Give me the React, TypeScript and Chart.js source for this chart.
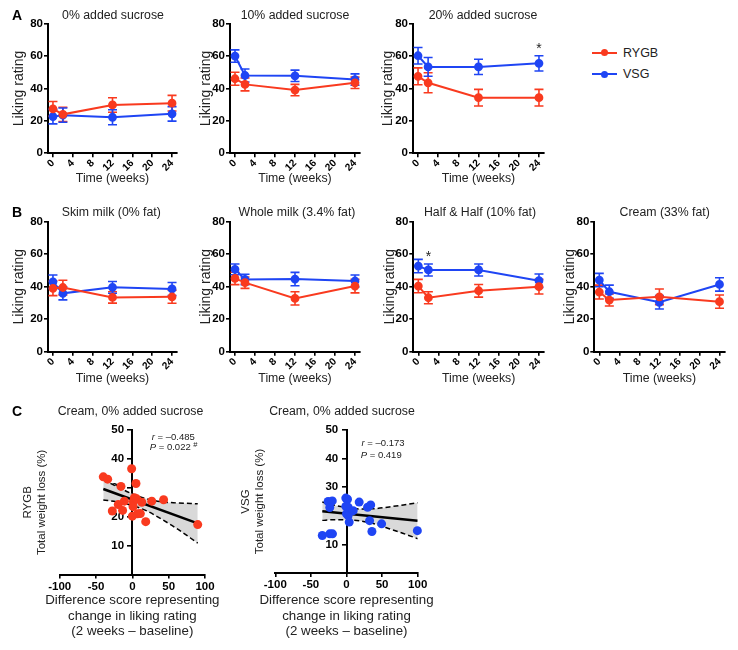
import React, { useEffect, useRef } from 'react';
import { Chart, registerables } from 'chart.js';

Chart.register(...registerables);

const FONT = "'Liberation Sans', Arial, Helvetica, sans-serif";
Chart.defaults.font.family = FONT;
Chart.defaults.color = '#000';

const RED = '#F93A1F';
const BLUE = '#1F45F4';
const BAND = '#D9D9D9';
const TEXT = '#222';

// ---------- Panels A & B: liking rating over time ----------
const weeks = [0, 2, 12, 24];
const weekTicks = [0, 4, 8, 12, 16, 20, 24];
const likingTicks = [0, 20, 40, 60, 80];

const suc0Rygb = [27.4, 24.0, 29.8, 30.9];
const suc0RygbSem = [4.5, 4.4, 4.5, 4.8];
const suc0Vsg = [22.6, 23.5, 22.2, 24.3];
const suc0VsgSem = [4.5, 4.4, 4.6, 4.5];

const suc10Rygb = [46.0, 42.5, 39.0, 43.5];
const suc10RygbSem = [4.0, 4.0, 3.5, 3.5];
const suc10Vsg = [60.0, 48.0, 47.8, 45.5];
const suc10VsgSem = [3.8, 4.0, 3.5, 3.5];

const suc20Rygb = [47.5, 43.5, 34.3, 34.3];
const suc20RygbSem = [5.2, 6.2, 5.1, 5.1];
const suc20Vsg = [60.2, 53.3, 53.3, 55.5];
const suc20VsgSem = [5.1, 5.8, 4.7, 4.7];

const skimRygb = [39.0, 39.5, 33.4, 33.8];
const skimRygbSem = [4.5, 4.5, 3.5, 4.0];
const skimVsg = [43.0, 35.9, 39.6, 38.6];
const skimVsgSem = [4.2, 4.0, 3.6, 4.0];

const wholeRygb = [45.1, 42.5, 32.8, 40.4];
const wholeRygbSem = [3.8, 3.5, 4.1, 4.2];
const wholeVsg = [50.7, 44.5, 44.7, 43.5];
const wholeVsgSem = [3.3, 3.2, 4.1, 3.7];

const halfRygb = [40.4, 33.2, 37.5, 40.0];
const halfRygbSem = [4.1, 3.7, 3.9, 4.5];
const halfVsg = [52.7, 50.3, 50.3, 43.7];
const halfVsgSem = [4.1, 3.7, 3.7, 4.1];

const creamRygb = [36.7, 31.8, 33.8, 30.8];
const creamRygbSem = [4.3, 3.7, 4.8, 4.1];
const creamVsg = [44.1, 36.9, 30.4, 41.4];
const creamVsgSem = [4.1, 4.1, 4.1, 4.1];

// ---------- Panel C: correlations ----------
const diffTicks = [-100, -50, 0, 50, 100];
const lossTicks = [10, 20, 30, 40, 50];
const diffTitle = ['Difference score representing', 'change in liking rating', '(2 weeks \u2013 baseline)'];

const rygbDiff = [-40, -34, -15.7, -1, 5, -19.4, -11, -27.6, -13.4, 0, 1.4, 2.8, 1, 6, 7, 11, 13, 18.4, 26.7, 43, 90];
const rygbLoss = [33.8, 33.0, 30.5, 36.6, 31.5, 24.2, 25.4, 22.0, 22.2, 20.2, 25.2, 26.6, 23.5, 26.2, 21.0, 21.1, 25.0, 18.3, 25.4, 25.9, 17.3];
const rygbFitX = [-40, 90];
const rygbFitY = [29.6, 17.7];
const rygbBandX = [-40, -20, 0, 20, 40, 60, 90];
const rygbBandUpper = [32.8, 30.3, 27.9, 26.2, 25.2, 24.8, 24.5];
const rygbBandLower = [25.8, 25.1, 23.9, 22.0, 19.2, 16.1, 10.9];

const vsgDiff = [-34, -23.5, -19.7, -25.8, -20, -23.5, -1, 1.4, -1, 2.3, 0, 2.3, 3.8, 9.4, 17.8, 29.6, 34, 32.4, 35.7, 49.3, 99.5];
const vsgLoss = [13.1, 13.7, 13.7, 25.0, 25.2, 22.9, 26.2, 25.8, 23.3, 23.0, 20.7, 20.1, 17.8, 21.8, 24.8, 23.0, 23.8, 18.3, 14.5, 17.2, 14.8];
const vsgFitX = [-34, 100];
const vsgFitY = [21.6, 18.3];
const vsgBandX = [-34, -20, 0, 20, 40, 60, 80, 100];
const vsgBandUpper = [24.8, 23.9, 22.9, 22.4, 22.5, 23.1, 23.8, 24.6];
const vsgBandLower = [18.4, 18.6, 18.6, 18.2, 17.1, 15.5, 13.8, 12.0];

type Rect = { x: number; y: number; w: number; h: number };
type Part = { t: string; italic?: boolean; sup?: boolean };
type Decor = {
  rect: Rect;
  title: string;
  titleX: number;
  titleY: number;
  stars?: { x: number; y: number }[];
  annots?: { x: number; y: number; parts: Part[] }[];
  xTitleLines?: string[];
  xTitleYs?: number[];
};

const errorBarPlugin = {
  id: 'errorBars',
  beforeDatasetsDraw(chart: any) {
    const ctx = chart.ctx;
    const xs = chart.scales.x;
    const ys = chart.scales.y;
    chart.data.datasets.forEach((ds: any) => {
      if (!ds.errors) return;
      ctx.save();
      ctx.strokeStyle = ds.borderColor;
      ctx.lineWidth = 1.6;
      ds.data.forEach((p: any, j: number) => {
        const e = ds.errors[j];
        const x = xs.getPixelForValue(p.x);
        const y1 = ys.getPixelForValue(p.y + e);
        const y2 = ys.getPixelForValue(p.y - e);
        ctx.beginPath();
        ctx.moveTo(x, y1);
        ctx.lineTo(x, y2);
        ctx.moveTo(x - 4.5, y1);
        ctx.lineTo(x + 4.5, y1);
        ctx.moveTo(x - 4.5, y2);
        ctx.lineTo(x + 4.5, y2);
        ctx.stroke();
      });
      ctx.restore();
    });
  },
};

function decorPlugin(d: Decor) {
  return {
    id: 'decor',
    afterDraw(chart: any) {
      const ctx = chart.ctx;
      const xs = chart.scales.x;
      const ys = chart.scales.y;
      const area = chart.chartArea;
      ctx.save();
      ctx.fillStyle = TEXT;
      ctx.font = `12.3px ${FONT}`;
      ctx.textAlign = 'center';
      ctx.textBaseline = 'middle';
      ctx.fillText(d.title, d.titleX - d.rect.x, d.titleY - d.rect.y);
      if (d.xTitleLines && d.xTitleYs) {
        ctx.font = `13.3px ${FONT}`;
        const cx = (area.left + area.right) / 2;
        d.xTitleLines.forEach((line, i) => {
          ctx.fillText(line, cx, d.xTitleYs![i] - d.rect.y);
        });
      }
      (d.stars || []).forEach((s) => {
        ctx.font = `14px ${FONT}`;
        ctx.textAlign = 'center';
        ctx.textBaseline = 'alphabetic';
        ctx.fillText('*', xs.getPixelForValue(s.x), ys.getPixelForValue(s.y) + 8);
      });
      (d.annots || []).forEach((a) => {
        let x = xs.getPixelForValue(a.x);
        const y = ys.getPixelForValue(a.y);
        a.parts.forEach((p) => {
          ctx.font = `${p.italic ? 'italic ' : ''}${p.sup ? 7.5 : 9.5}px ${FONT}`;
          ctx.textAlign = 'left';
          ctx.textBaseline = 'middle';
          ctx.fillText(p.t, x, p.sup ? y - 3 : y);
          x += ctx.measureText(p.t).width;
        });
      });
      ctx.restore();
    },
  };
}

const axisBorder = { display: true, color: '#000', width: 2 };
const axisGrid = {
  display: true,
  drawOnChartArea: false,
  drawTicks: true,
  tickLength: 4,
  tickWidth: 1.6,
  tickColor: '#000',
  color: '#000',
  lineWidth: 1.6,
};
const tickFont = { size: 11.5, weight: 'bold' as const };
const rotTickFont = { size: 10.2, weight: 'bold' as const };

type LineSpec = {
  title: string;
  titleX: number;
  titleY: number;
  yTitleX: number;
  ax0: number;
  ax1: number;
  ay0: number;
  ay1: number;
  xTitleY: number;
  rygb: number[];
  rygbSem: number[];
  vsg: number[];
  vsgSem: number[];
  stars?: { x: number; y: number }[];
};

type Built = { rect: Rect; make: () => any };

function linePanel(s: LineSpec): Built {
  const left = Math.floor(s.yTitleX - 8.4);
  const top = Math.floor(s.ay0 - 30);
  const right = Math.ceil(s.ax1 + 14);
  const bottom = Math.ceil(s.xTitleY + 7.38);
  const rect = { x: left, y: top, w: right - left, h: bottom - top };
  const padLeft = s.yTitleX - 8.4 - left;
  const make = () => ({
    type: 'scatter',
    data: {
      datasets: [
        {
          label: 'RYGB',
          data: weeks.map((w, i) => ({ x: w, y: s.rygb[i] })),
          errors: s.rygbSem,
          showLine: true,
          borderColor: RED,
          backgroundColor: RED,
          borderWidth: 2,
          pointRadius: 3.4,
          pointHoverRadius: 3.4,
          clip: false,
        },
        {
          label: 'VSG',
          data: weeks.map((w, i) => ({ x: w, y: s.vsg[i] })),
          errors: s.vsgSem,
          showLine: true,
          borderColor: BLUE,
          backgroundColor: BLUE,
          borderWidth: 2,
          pointRadius: 3.4,
          pointHoverRadius: 3.4,
          clip: false,
        },
      ],
    },
    options: {
      responsive: false,
      animation: false,
      events: [],
      layout: {
        autoPadding: false,
        padding: { left: padLeft, top: s.ay0 - top, right: right - s.ax1, bottom: 0 },
      },
      plugins: { legend: { display: false }, tooltip: { enabled: false }, title: { display: false } },
      scales: {
        x: {
          type: 'linear',
          position: 'bottom',
          min: -1,
          max: 25,
          afterBuildTicks: (sc: any) => {
            sc.ticks = weekTicks.map((v) => ({ value: v }));
          },
          afterFit: (sc: any) => {
            sc.height = bottom - s.ay1;
          },
          border: axisBorder,
          grid: axisGrid,
          ticks: { font: rotTickFont, color: '#000', minRotation: 45, maxRotation: 45, autoSkip: false, padding: 0 },
          title: { display: true, text: 'Time (weeks)', font: { size: 12.3 }, color: TEXT, padding: { top: 0, bottom: 0 } },
        },
        y: {
          type: 'linear',
          position: 'left',
          min: 0,
          max: 80,
          afterBuildTicks: (sc: any) => {
            sc.ticks = likingTicks.map((v) => ({ value: v }));
          },
          afterFit: (sc: any) => {
            sc.width = s.ax0 - left - padLeft;
          },
          border: axisBorder,
          grid: axisGrid,
          ticks: { font: tickFont, color: '#000', padding: 1 },
          title: { display: true, text: 'Liking rating', font: { size: 14 }, color: TEXT, padding: { top: 0, bottom: 0 } },
        },
      },
    },
    plugins: [errorBarPlugin, decorPlugin({ rect, title: s.title, titleX: s.titleX, titleY: s.titleY, stars: s.stars })],
  });
  return { rect, make };
}

type ScatterSpec = {
  group: string;
  color: string;
  titleX: number;
  titleY: number;
  yTitleX: number;
  ax0: number;
  ax1: number;
  ay0: number;
  ay1: number;
  xTitleYs: number[];
  diff: number[];
  loss: number[];
  fitX: number[];
  fitY: number[];
  bandX: number[];
  bandUpper: number[];
  bandLower: number[];
  annots: { x: number; y: number; parts: Part[] }[];
};

function scatterPanel(s: ScatterSpec): Built {
  const lh = 14.5;
  const left = Math.floor(s.yTitleX - lh / 2);
  const top = Math.floor(s.ay0 - 36);
  const right = Math.ceil(s.ax1 + 16);
  const bottom = Math.ceil(s.xTitleYs[s.xTitleYs.length - 1] + 9);
  const rect = { x: left, y: top, w: right - left, h: bottom - top };
  const padLeft = s.yTitleX - lh / 2 - left;
  const pxPerUnit = (s.ax1 - s.ax0) / 200;
  const make = () => ({
    type: 'scatter',
    data: {
      datasets: [
        {
          label: s.group,
          data: s.diff.map((d, i) => ({ x: d, y: s.loss[i] })),
          backgroundColor: s.color,
          borderColor: s.color,
          pointRadius: 4.5,
          pointHoverRadius: 4.5,
          borderWidth: 0,
          clip: false,
        },
        {
          type: 'line',
          label: 'fit',
          data: s.fitX.map((d, i) => ({ x: d, y: s.fitY[i] })),
          borderColor: '#000',
          borderWidth: 2.5,
          pointRadius: 0,
          fill: false,
        },
        {
          type: 'line',
          label: 'upper 95% CI',
          data: s.bandX.map((d, i) => ({ x: d, y: s.bandUpper[i] })),
          borderColor: '#000',
          borderWidth: 1.5,
          borderDash: [5, 3],
          pointRadius: 0,
          cubicInterpolationMode: 'monotone',
          fill: '+1',
          backgroundColor: BAND,
        },
        {
          type: 'line',
          label: 'lower 95% CI',
          data: s.bandX.map((d, i) => ({ x: d, y: s.bandLower[i] })),
          borderColor: '#000',
          borderWidth: 1.5,
          borderDash: [5, 3],
          pointRadius: 0,
          cubicInterpolationMode: 'monotone',
          fill: false,
        },
      ],
    },
    options: {
      responsive: false,
      animation: false,
      events: [],
      layout: {
        autoPadding: false,
        padding: { left: padLeft, top: s.ay0 - top, right: right - s.ax1, bottom: 0 },
      },
      plugins: {
        legend: { display: false },
        tooltip: { enabled: false },
        title: { display: false },
        filler: { drawTime: 'beforeDatasetsDraw' },
      },
      scales: {
        x: {
          type: 'linear',
          position: 'bottom',
          min: -100,
          max: 100,
          afterBuildTicks: (sc: any) => {
            sc.ticks = diffTicks.map((v) => ({ value: v }));
          },
          afterFit: (sc: any) => {
            sc.height = bottom - s.ay1;
          },
          border: axisBorder,
          grid: axisGrid,
          ticks: { font: tickFont, color: '#000', maxRotation: 0, autoSkip: false, padding: 1 },
          title: { display: false },
        },
        yt: {
          type: 'linear',
          position: 'left',
          min: 0,
          max: 50,
          ticks: { display: false },
          grid: { display: false },
          border: { display: false },
          afterFit: (sc: any) => {
            sc.width = s.ax0 - left - padLeft;
          },
          title: {
            display: true,
            text: [s.group, 'Total weight loss (%)'],
            font: { size: 11.5, lineHeight: lh / 11.5 },
            color: TEXT,
            padding: { top: 0, bottom: 0 },
          },
        },
        y: {
          type: 'linear',
          position: { x: 0 },
          min: 0,
          max: 50,
          afterBuildTicks: (sc: any) => {
            sc.ticks = lossTicks.map((v) => ({ value: v }));
          },
          ticks: { display: false },
          grid: axisGrid,
          border: axisBorder,
        },
        ylab: {
          type: 'linear',
          position: { x: -8.3 / pxPerUnit },
          min: 0,
          max: 50,
          afterBuildTicks: (sc: any) => {
            sc.ticks = lossTicks.map((v) => ({ value: v }));
          },
          ticks: { display: true, font: tickFont, color: '#000', padding: 0 },
          grid: { display: false },
          border: { display: false },
        },
      },
    },
    plugins: [
      decorPlugin({
        rect,
        title: 'Cream, 0% added sucrose',
        titleX: s.titleX,
        titleY: s.titleY,
        annots: s.annots,
        xTitleLines: diffTitle,
        xTitleYs: s.xTitleYs,
      }),
    ],
  });
  return { rect, make };
}

const A_Y0 = 23.7;
const A_Y1 = 153.2;
const B_Y0 = 221.7;
const B_Y1 = 351.7;
const C_XTITLE_YS = [600, 616, 631.5];

const panels: Built[] = [
  linePanel({ title: '0% added sucrose', titleX: 113, titleY: 15.5, yTitleX: 19.5, ax0: 48, ax1: 177, ay0: A_Y0, ay1: A_Y1, xTitleY: 178, rygb: suc0Rygb, rygbSem: suc0RygbSem, vsg: suc0Vsg, vsgSem: suc0VsgSem }),
  linePanel({ title: '10% added sucrose', titleX: 295, titleY: 15.5, yTitleX: 206, ax0: 230, ax1: 360, ay0: A_Y0, ay1: A_Y1, xTitleY: 178, rygb: suc10Rygb, rygbSem: suc10RygbSem, vsg: suc10Vsg, vsgSem: suc10VsgSem }),
  linePanel({ title: '20% added sucrose', titleX: 483, titleY: 15.5, yTitleX: 388, ax0: 413, ax1: 544, ay0: A_Y0, ay1: A_Y1, xTitleY: 178, rygb: suc20Rygb, rygbSem: suc20RygbSem, vsg: suc20Vsg, vsgSem: suc20VsgSem, stars: [{ x: 24, y: 67 }] }),
  linePanel({ title: 'Skim milk (0% fat)', titleX: 111.3, titleY: 212.5, yTitleX: 19.2, ax0: 48, ax1: 177, ay0: B_Y0, ay1: B_Y1, xTitleY: 378, rygb: skimRygb, rygbSem: skimRygbSem, vsg: skimVsg, vsgSem: skimVsgSem }),
  linePanel({ title: 'Whole milk (3.4% fat)', titleX: 297, titleY: 212.5, yTitleX: 206, ax0: 230, ax1: 360, ay0: B_Y0, ay1: B_Y1, xTitleY: 378, rygb: wholeRygb, rygbSem: wholeRygbSem, vsg: wholeVsg, vsgSem: wholeVsgSem }),
  linePanel({ title: 'Half & Half (10% fat)', titleX: 480, titleY: 212.5, yTitleX: 390, ax0: 413.3, ax1: 544, ay0: B_Y0, ay1: B_Y1, xTitleY: 378, rygb: halfRygb, rygbSem: halfRygbSem, vsg: halfVsg, vsgSem: halfVsgSem, stars: [{ x: 2, y: 61 }] }),
  linePanel({ title: 'Cream (33% fat)', titleX: 664.7, titleY: 212.5, yTitleX: 570.5, ax0: 594.3, ax1: 724.5, ay0: B_Y0, ay1: B_Y1, xTitleY: 378, rygb: creamRygb, rygbSem: creamRygbSem, vsg: creamVsg, vsgSem: creamVsgSem }),
  scatterPanel({
    group: 'RYGB', color: RED, titleX: 130.5, titleY: 412, yTitleX: 27.5, ax0: 59.7, ax1: 205, ay0: 430, ay1: 574.6, xTitleYs: C_XTITLE_YS,
    diff: rygbDiff, loss: rygbLoss, fitX: rygbFitX, fitY: rygbFitY, bandX: rygbBandX, bandUpper: rygbBandUpper, bandLower: rygbBandLower,
    annots: [
      { x: 26.7, y: 47.6, parts: [{ t: 'r', italic: true }, { t: ' = \u20130.485' }] },
      { x: 24, y: 43.9, parts: [{ t: 'P', italic: true }, { t: ' = 0.022 ' }, { t: '#', sup: true }] },
    ],
  }),
  scatterPanel({
    group: 'VSG', color: BLUE, titleX: 342, titleY: 412, yTitleX: 245.8, ax0: 275.3, ax1: 417.7, ay0: 430, ay1: 573, xTitleYs: C_XTITLE_YS,
    diff: vsgDiff, loss: vsgLoss, fitX: vsgFitX, fitY: vsgFitY, bandX: vsgBandX, bandUpper: vsgBandUpper, bandLower: vsgBandLower,
    annots: [
      { x: 21, y: 45.3, parts: [{ t: 'r', italic: true }, { t: ' = \u20130.173' }] },
      { x: 20, y: 41.3, parts: [{ t: 'P', italic: true }, { t: ' = 0.419' }] },
    ],
  }),
];

function Panel({ b }: { b: Built }) {
  const ref = useRef<HTMLCanvasElement>(null);
  useEffect(() => {
    if (!ref.current) return;
    const chart = new Chart(ref.current, b.make());
    return () => chart.destroy();
  }, [b]);
  return (
    <canvas
      ref={ref}
      width={b.rect.w}
      height={b.rect.h}
      style={{ position: 'absolute', left: b.rect.x, top: b.rect.y, width: b.rect.w, height: b.rect.h }}
    />
  );
}

const letterStyle = (x: number, y: number): React.CSSProperties => ({
  position: 'absolute',
  left: x,
  top: y - 8,
  fontFamily: FONT,
  fontWeight: 'bold',
  fontSize: 14,
  lineHeight: '16px',
  color: '#000',
});

function LegendRow({ y, color, label }: { y: number; color: string; label: string }) {
  return (
    <>
      <div style={{ position: 'absolute', left: 592, top: y - 1, width: 25, height: 2, background: color }} />
      <div style={{ position: 'absolute', left: 600.5, top: y - 3.5, width: 7, height: 7, borderRadius: '50%', background: color }} />
      <span style={{ position: 'absolute', left: 623, top: y - 8, fontFamily: FONT, fontSize: 12.5, lineHeight: '16px', color: TEXT }}>
        {label}
      </span>
    </>
  );
}

export default function App() {
  return (
    <div style={{ position: 'absolute', left: 0, top: 0, width: 738, height: 650, background: '#fff', overflow: 'hidden' }}>
      {panels.map((b, i) => (
        <Panel key={i} b={b} />
      ))}
      <span style={letterStyle(12, 15)}>A</span>
      <span style={letterStyle(12, 212)}>B</span>
      <span style={letterStyle(12, 411)}>C</span>
      <LegendRow y={52.5} color={RED} label="RYGB" />
      <LegendRow y={74} color={BLUE} label="VSG" />
    </div>
  );
}
